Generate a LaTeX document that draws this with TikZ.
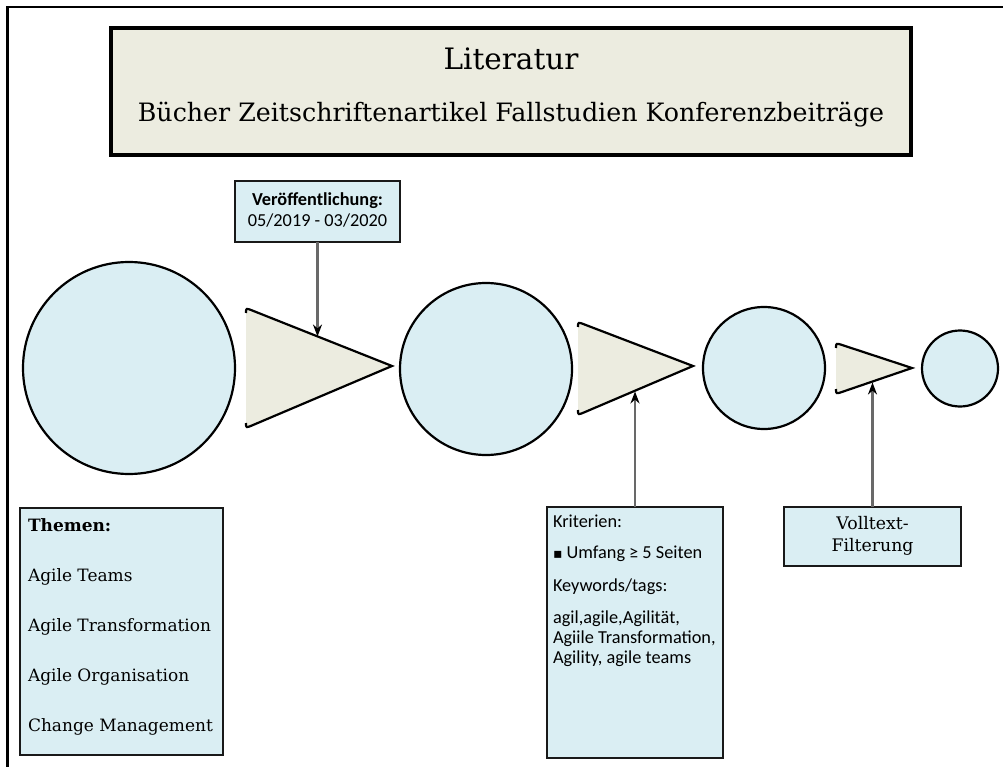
\documentclass[tikz,border=0pt]{standalone}
\usepackage{fontspec}
\setmainfont{DejaVu Serif}
\newfontfamily\calfont{Carlito}
\newfontfamily\symfont{DejaVu Sans}
\usetikzlibrary{arrows.meta,calc}
\definecolor{lblue}{RGB}{218,238,243}
\definecolor{tanfill}{RGB}{236,236,224}
\definecolor{arrgray}{RGB}{105,105,105}
\newcommand\mytri[3]{%
  \fill[tanfill] ($(#1)!5pt!(#3)$) .. controls (#1) .. ($(#1)!7pt!(#2)$) -- (#2) -- ($(#3)!7pt!(#2)$) .. controls (#3) .. ($(#3)!5pt!(#1)$) -- cycle;
  \draw[triline] ($(#1)!5pt!(#3)$) .. controls (#1) .. ($(#1)!7pt!(#2)$) -- (#2) -- ($(#3)!7pt!(#2)$) .. controls (#3) .. ($(#3)!5pt!(#1)$);}
\begin{document}
\begin{tikzpicture}[x=1pt,y=-1pt,
  every node/.style={inner sep=0pt,outer sep=0pt},
  circ/.style={circle,draw=black,fill=lblue,line width=2.2pt},
  infobox/.style={rectangle,draw=black!90,fill=lblue,line width=2.4pt},
  titlebox/.style={rectangle,draw=black,fill=tanfill,line width=3.2pt},
  triline/.style={draw=black,line width=2.2pt,line join=miter},
  arr/.style={draw=arrgray,line width=2.2pt,-{Stealth[length=12pt,width=9pt,color=black]}},
  slabtext/.style={font=\fontsize{17}{50}\selectfont},
  caltext/.style={font=\calfont\fontsize{18.3}{20}\selectfont}]
\useasboundingbox (0,0) rectangle (1003,767);
% frame
\draw[line width=2.6pt] (7.5,767) -- (7.5,7) -- (1003,7);
% title
\node[titlebox,minimum width=800pt,minimum height=127pt] (lit) at (511,91.5) {};
\node[anchor=base,font=\fontsize{29.5}{34}\selectfont] (lit1) at (511,70) {Literatur};
\node[anchor=base,font=\fontsize{25.3}{30}\selectfont] (lit2) at (511,122) {Bücher Zeitschriftenartikel Fallstudien Konferenzbeiträge};
% circles
\node[circ,minimum size=212pt] (c1) at (129,368) {};
\node[circ,minimum size=172pt] (c2) at (486,369) {};
\node[circ,minimum size=122pt] (c3) at (764,368) {};
\node[circ,minimum size=76pt] (c4) at (960,368.5) {};
% triangles
\coordinate (t1a) at (246,308); \coordinate (t1b) at (392,366); \coordinate (t1c) at (246,428);
\coordinate (t2a) at (578,322); \coordinate (t2b) at (693,366); \coordinate (t2c) at (578,415);
\coordinate (t3a) at (836,343); \coordinate (t3b) at (912,368); \coordinate (t3c) at (836,394);
\mytri{t1a}{t1b}{t1c}
\mytri{t2a}{t2b}{t2c}
\mytri{t3a}{t3b}{t3c}
\coordinate (p1) at (317.5,336.5);
\coordinate (p2) at (635,391.5);
\coordinate (p3) at (872.5,382.5);
% Veröffentlichung
\node[infobox,minimum width=165pt,minimum height=61pt] (vb) at (317.5,211.5) {};
\node[align=center,font=\calfont\fontsize{18.3}{21.5}\selectfont] (vbt) at (317.5,210) {\textbf{Veröffentlichung:}\\05/2019 - 03/2020};
\draw[arr] (vb.south) -- (p1);
% Kriterien
\node[infobox,minimum width=176pt,minimum height=251pt] (kr) at (635,632.5) {};
\node[caltext,align=left,anchor=north west] (krt) at (553,514.5) {Kriterien:\\[11pt]{\symfont\fontsize{14}{20}\selectfont ▪} Umfang ≥ 5 Seiten\\[13pt]Keywords/tags:\\[12pt]agil,agile,Agilität,\\Agiile Transformation,\\Agility, agile teams};
\draw[arr] (kr.north) -- (p2);
% Volltext
\node[infobox,minimum width=177pt,minimum height=59pt] (vt) at (872.5,536.5) {};
\node[align=center,font=\fontsize{17.3}{22}\selectfont] (vtt) at (872.5,536) {Volltext-\\Filterung};
\draw[arr] (vt.north) -- (p3);
% Themen
\node[infobox,minimum width=203pt,minimum height=247pt] (th) at (121.5,631.5) {};
\node[slabtext,align=left,anchor=north west] (tht) at (28,519) {\textbf{Themen:}\\Agile Teams\\Agile Transformation\\Agile Organisation\\Change Management};
\end{tikzpicture}
\end{document}
